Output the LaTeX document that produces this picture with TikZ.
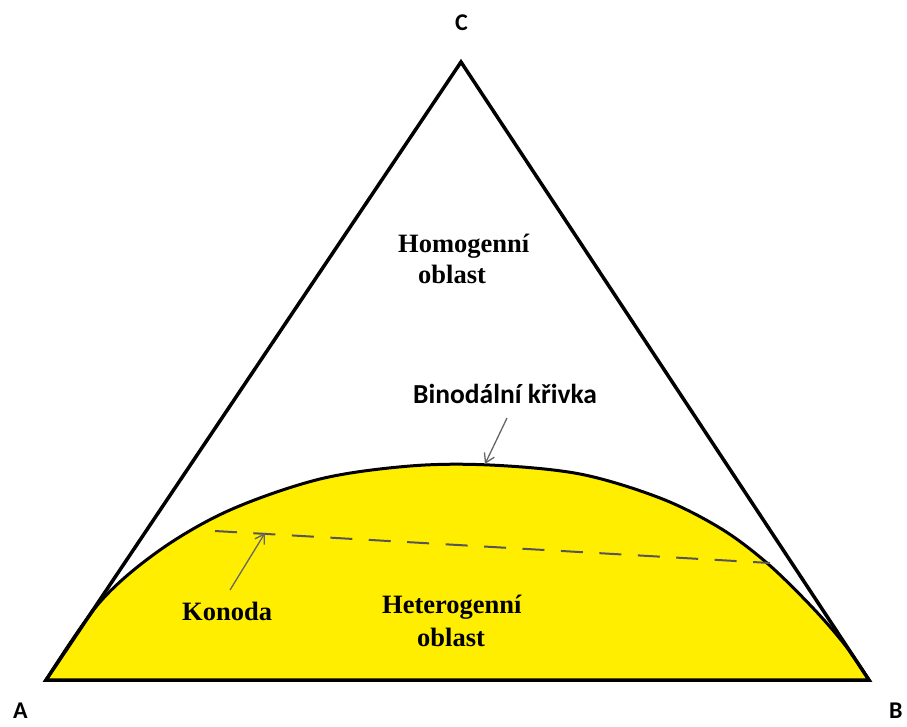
\documentclass[tikz,border=0pt]{standalone}
\usepackage{fontspec}
\setmainfont{Liberation Serif}
\newfontfamily\calib{Carlito}
\usetikzlibrary{arrows.meta}
\definecolor{yel}{RGB}{255,238,0}
\definecolor{dashgray}{RGB}{85,85,85}
\tikzset{
  edge/.style={line width=3.5pt, line join=miter},
  lbl/.style={font=\calib\bfseries\fontsize{24}{28}\selectfont, inner sep=0pt, anchor=base west},
  txt/.style={font=\bfseries\fontsize{26.5}{30}\selectfont, inner sep=0pt, anchor=base west},
  ptr/.style={line width=1.3pt, draw=dashgray!90, -{Straight Barb[length=9pt,width=11pt]}}
}
\begin{document}
\begin{tikzpicture}[x=1pt,y=-1pt]
\useasboundingbox (0,0) rectangle (907,726);
\coordinate (A) at (46,680);
\coordinate (B) at (869,680);
\coordinate (C) at (461,62);
% heterogeneous region
\fill[yel] plot[smooth, tension=0.55] coordinates {(46,680) (100,602) (160,550) (230,510) (320,479) (410,466) (490,465) (580,474) (660,498) (720,528) (767,563) (812,607) (845,645) (869,680)} -- cycle;
\draw[line width=3pt] plot[smooth, tension=0.55] coordinates {(46,680) (100,602) (160,550) (230,510) (320,479) (410,466) (490,465) (580,474) (660,498) (720,528) (767,563) (812,607) (845,645) (869,680)};
% triangle
\draw[edge] (A) -- (B) -- (C) -- cycle;
% tie line
\coordinate (t1) at (215,531);
\coordinate (t2) at (770,563);
\draw[dashgray, line width=2pt, dash pattern=on 22pt off 16.5pt] (t1) -- (t2);
% labels
\node[lbl] (la) at (13,718) {A};
\node[lbl] (lb) at (889,718) {B};
\node[lbl] (lc) at (455,30) {C};
\node[txt] (hom1) at (398,252) {Homogenní};
\node[txt] (hom2) at (418,283) {oblast};
\node[txt] (het1) at (382,613) {Heterogenní};
\node[txt] (het2) at (417,646) {oblast};
\node[txt] (kon) at (182,620) {Konoda};
\node[lbl, font=\calib\bfseries\fontsize{27.5}{30}\selectfont] (bin) at (413,403) {Binodální křivka};
\coordinate (binp) at (485,464);
\coordinate (konp) at (265,533);
\coordinate (bs) at (507,418);
\coordinate (ks) at (230,590);
\draw[ptr] (bs) -- (binp);
\draw[ptr] (ks) -- (konp);
\end{tikzpicture}
\end{document}
